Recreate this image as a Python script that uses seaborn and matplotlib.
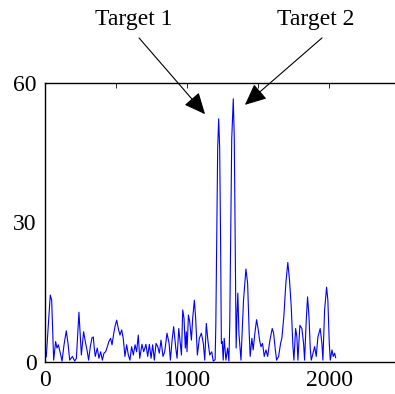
import matplotlib
matplotlib.use("Agg")
import matplotlib.pyplot as plt
import seaborn as sns
import pandas as pd
from matplotlib.ticker import FixedLocator

# ---- data ----
sample_index = [
    0, 9, 37, 47, 61, 75, 84, 94, 108, 120, 134, 150, 162, 174, 193, 209, 221, 239, 249, 256,
    272, 286, 298, 307, 319, 331, 340, 347, 354, 368, 380, 392, 404, 415, 427, 439, 450, 462, 472, 486,
    495, 505, 516, 528, 540, 551, 563, 575, 587, 598, 610, 622, 634, 645, 657, 667, 683, 695, 711, 723,
    735, 747, 758, 770, 782, 794, 805, 817, 831, 843, 859, 874, 883, 895, 906, 921, 930, 942, 954, 961,
    970, 979, 988, 995, 1000, 1010, 1019, 1031, 1040, 1052, 1061, 1073, 1087, 1101, 1115, 1125, 1136, 1148, 1160, 1174,
    1185, 1198, 1203, 1210, 1216, 1223, 1230, 1236, 1242, 1248, 1255, 1262, 1274, 1286, 1295, 1301, 1308, 1315, 1326, 1333,
    1340, 1346, 1352, 1358, 1366, 1380, 1398, 1415, 1427, 1438, 1445, 1457, 1466, 1478, 1490, 1502, 1511, 1521, 1532, 1544,
    1556, 1568, 1584, 1600, 1610, 1622, 1631, 1645, 1659, 1668, 1682, 1696, 1710, 1722, 1734, 1746, 1753, 1765, 1774, 1781,
    1795, 1809, 1821, 1828, 1840, 1849, 1859, 1868, 1875, 1887, 1899, 1910, 1922, 1938, 1950, 1957, 1969, 1983, 1992, 2002,
    2009, 2021, 2030, 2040, 2047,
]
amplitude = [
    3, 1.1, 14.4, 13.3, 0.4, 4.4, 3, 3.7, 1.9, 0.2, 3.7, 6.7, 4, 0.4, 1.2, 0.2, 0.8, 10.7, 5.1, 1.5,
    6.5, 4, 2.2, 0.4, 3.3, 5.2, 5.4, 3, 1.2, 3, 0.8, 2.2, 0.4, 1.9, 2.2, 3.3, 4.4, 5.1, 3.7, 6.5,
    7.9, 9, 7.2, 5.8, 6.9, 5.1, 1.2, 3.7, 1.5, 0.4, 3.3, 1.5, 3.7, 2.2, 5.8, 0.8, 3.8, 2.2, 3.8, 1.2,
    3.8, 0.8, 3.7, 0.4, 4, 3.3, 1.9, 4.7, 1.2, 2.2, 6.2, 4, 0.4, 4.7, 7.6, 3, 0.8, 7.2, 3.7, 1.5,
    11.2, 9.4, 3, 6.5, 2.2, 10.1, 8.7, 4.7, 9.4, 13.3, 9.4, 1.5, 5.1, 6.2, 4, 0.4, 8.3, 4.4, 1.5, 2.2,
    0.2, 0.5, 8, 28, 46, 52.3, 46, 28, 4, 4.4, 0.4, 5.1, 0.4, 3, 0.2, 8, 28, 48, 56.6, 48,
    25, 3, 10, 14.8, 6, 0.4, 13.3, 20, 16.9, 6.2, 1.2, 5.1, 2.6, 6.2, 9.1, 6.9, 4.7, 3.3, 4, 1.2,
    2.6, 1.2, 4.7, 7.2, 6.2, 2.6, 0.4, 1.2, 4, 5.1, 9.8, 16.9, 21.4, 17.6, 11.9, 3.3, 0.4, 7.2, 5.4, 0.4,
    7.9, 7.2, 4, 0.4, 9.1, 14, 9.8, 2.9, 0.4, 1.9, 3.3, 1.2, 5.4, 7.2, 4, 0.4, 11.2, 16.1, 13.3, 4,
    0.4, 2.6, 1.2, 1.9, 0.9,
]
x_tick_labels = ["0", "1000", "2000"]
y_tick_labels = ["0", "30", "60"]
target_labels = ["Target 1", "Target 2"]

df = pd.DataFrame({"index": sample_index, "amplitude": amplitude})

sns.set_theme(style="white")
plt.rcParams["font.family"] = ["Liberation Serif", "DejaVu Serif"]

W, H = 395, 394
fig = plt.figure(figsize=(W / 100, H / 100), dpi=100)
ax = fig.add_axes([45 / W, 32 / H, 355 / W, 279 / H])

sns.lineplot(data=df, x="index", y="amplitude", color="#0000ff", linewidth=0.8,
             estimator=None, sort=True, ax=ax)

ax.set_xlim(0, 2500)
ax.set_ylim(0, 60)
ax.set_xlabel("")
ax.set_ylabel("")

ax.xaxis.set_major_locator(FixedLocator([0, 1000, 2000]))
ax.set_xticklabels(x_tick_labels)
ax.xaxis.set_minor_locator(FixedLocator([500, 1500, 2500]))
ax.yaxis.set_major_locator(FixedLocator([0, 30, 60]))
ax.set_yticklabels(y_tick_labels)
ax.yaxis.set_minor_locator(FixedLocator([10, 20, 40, 50]))

ax.tick_params(which="both", direction="in", top=True, right=False, length=3.5,
               width=0.6, color="black")
ax.tick_params(axis="x", which="major", labelsize=17, pad=6, colors="black")
ax.tick_params(axis="y", which="major", labelsize=17, pad=6, colors="black")

for side in ["left", "bottom", "top"]:
    ax.spines[side].set_visible(True)
    ax.spines[side].set_color("black")
    ax.spines[side].set_linewidth(1.0)
ax.spines["right"].set_visible(False)

# annotations (text + arrows)
text_pos = [(627, 72.5), (1908, 72.5)]
arrow_tail = [(662, 69.7), (1951, 69.7)]
arrow_tip = [(1127, 53.3), (1408, 55.3)]
for lab, tp, tail, tip in zip(target_labels, text_pos, arrow_tail, arrow_tip):
    ax.text(tp[0], tp[1], lab, ha="center", va="baseline", fontsize=17,
            color="black", clip_on=False)
    ax.annotate("", xy=tip, xytext=tail, xycoords="data", textcoords="data",
                annotation_clip=False,
                arrowprops=dict(arrowstyle="-|>,head_length=1.1,head_width=0.5",
                                color="black", lw=0.8, shrinkA=0, shrinkB=0))

fig.savefig("out.png", dpi=100)
